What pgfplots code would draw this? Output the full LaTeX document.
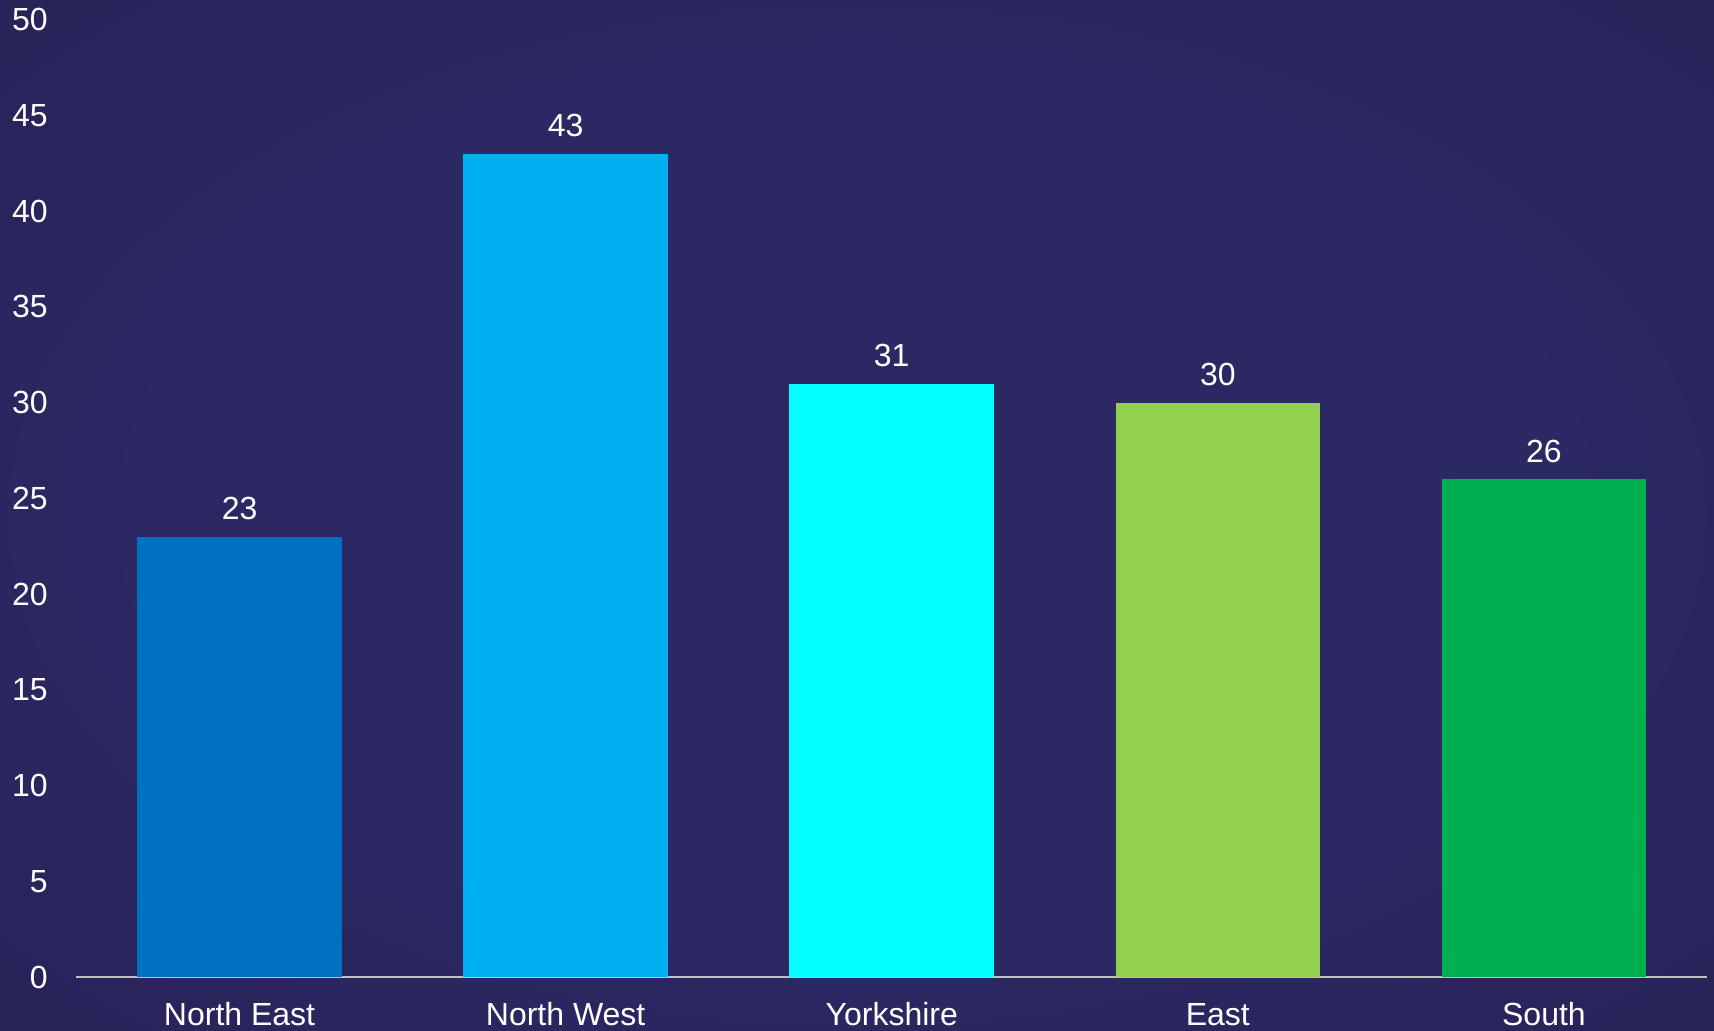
\documentclass[border=0pt]{standalone}
\usepackage{pgfplots}
\pgfplotsset{compat=1.18}
\usepackage{fontspec}
\setmainfont{Liberation Sans}
\definecolor{bgin}{HTML}{2C2864}
\definecolor{bgout}{HTML}{221D4A}
\definecolor{cNE}{HTML}{0070C0}
\definecolor{cNW}{HTML}{00B0F0}
\definecolor{cY}{HTML}{00FFFF}
\definecolor{cE}{HTML}{92D050}
\definecolor{cS}{HTML}{00B050}
\definecolor{axisgray}{HTML}{C0C0C0}
\pgfdeclareradialshading{bgshade}{\pgfpoint{0bp}{0bp}}{color(0bp)=(bgin); color(20bp)=(bgin); color(55bp)=(bgout); color(100bp)=(bgout)}
\begin{document}
\begin{tikzpicture}
\fill[shading=bgshade] (0,0) rectangle (857pt,515.5pt);
\useasboundingbox (0,0) rectangle (857pt,515.5pt);
\begin{axis}[
  at={(38.25pt,26.9pt)}, anchor=south west,
  scale only axis, width=815.25pt, height=478.75pt,
  xmin=-0.5, xmax=4.5, ymin=0, ymax=50,
  axis x line*=bottom, axis y line*=left,
  x axis line style={draw=axisgray, line width=1.1pt},
  y axis line style={draw=none},
  tick style={draw=none},
  ytick={0,5,...,50},
  xtick={0,1,2,3,4},
  xticklabels={North East, North West, Yorkshire, East, South},
  /pgf/number format/assume math mode=true,
  tick label style={font=\fontsize{16}{19}\selectfont, text=white, inner sep=0pt},
  yticklabel style={anchor=east, xshift=-14.25pt},
  xticklabel style={anchor=base, yshift=-20pt},
  ybar, bar width=102.3pt, bar shift=0pt,
  nodes near coords,
  every node near coord/.append style={font=\fontsize{16}{19}\selectfont, text=white, anchor=base, yshift=8.5pt, inner sep=0pt},
  clip=false,
]
\addplot[fill=cNE, draw=none] coordinates {(0,23)};
\addplot[fill=cNW, draw=none] coordinates {(1,43)};
\addplot[fill=cY, draw=none] coordinates {(2,31)};
\addplot[fill=cE, draw=none] coordinates {(3,30)};
\addplot[fill=cS, draw=none] coordinates {(4,26)};
\end{axis}
\end{tikzpicture}
\end{document}
